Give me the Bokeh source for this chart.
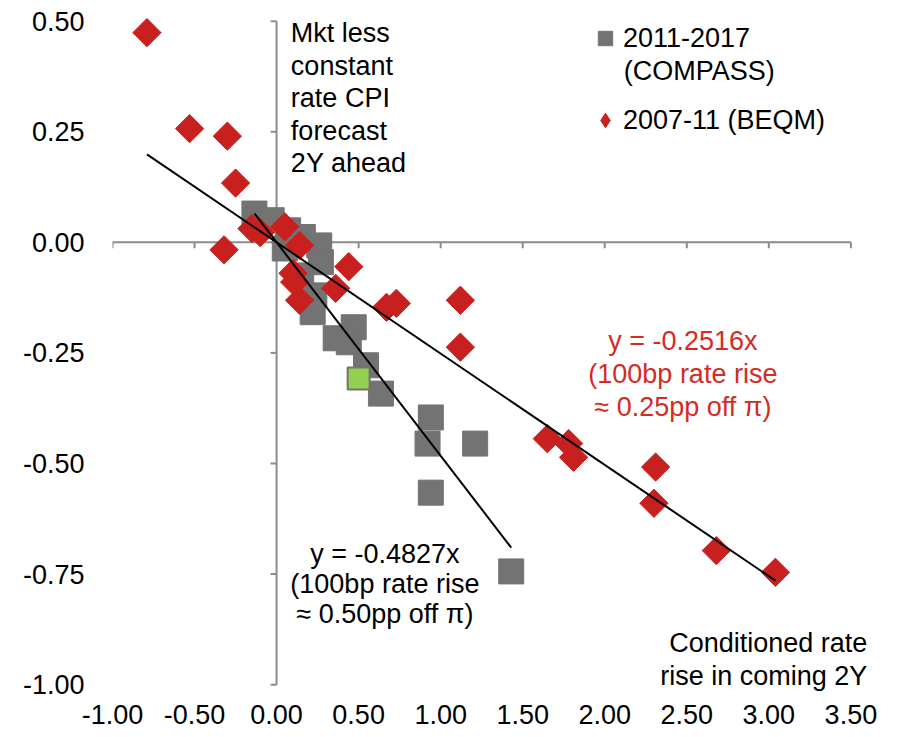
import numpy as np
from bokeh.plotting import figure
from bokeh.models import (LinearAxis, FixedTicker, Label, Legend, LegendItem, Range1d,
                          ColumnDataSource, CDSView, IndexFilter)
from bokeh.embed import file_html
from bokeh.resources import INLINE

# ---- data ----
compass_x = [-0.135, -0.03, 0.05, 0.07, 0.16, 0.26, 0.27, 0.15, 0.23, 0.22,
             0.47, 0.36, 0.44, 0.545, 0.636, 0.94, 0.92, 1.21, 0.94, 1.43]
compass_y = [0.065, 0.05, -0.014, 0.027, 0.012, -0.007, -0.045, -0.075, -0.12, -0.158,
             -0.192, -0.217, -0.226, -0.278, -0.342, -0.396, -0.455, -0.455, -0.566, -0.744]
latest_x = [0.50]
latest_y = [-0.308]
beqm_x = [-0.79, -0.53, -0.30, -0.25, -0.32, -0.15, -0.10, 0.05, 0.14, 0.10, 0.11, 0.14,
          0.44, 0.36, 0.67, 0.73, 1.12, 1.12, 1.65, 1.78, 1.81, 2.31, 2.30, 2.68, 3.04]
beqm_y = [0.474, 0.257, 0.24, 0.134, -0.017, 0.031, 0.022, 0.035, -0.007, -0.07, -0.09, -0.131,
          -0.055, -0.104, -0.147, -0.138, -0.131, -0.237, -0.444, -0.455, -0.486, -0.508,
          -0.59, -0.697, -0.746]
compass_slope = -0.4827
beqm_slope = -0.2516
x_ticks = [-1.0, -0.5, 0.0, 0.5, 1.0, 1.5, 2.0, 2.5, 3.0, 3.5]
y_ticks = [-1.0, -0.75, -0.5, -0.25, 0.0, 0.25, 0.5]
series_names = ["2011-2017", "(COMPASS)", "2007-11 (BEQM)"]

FONT = "Liberation Sans"
FS = "27px"
GREY = "#737373"
RED = "#C8201E"
RED_TXT = "#D42B25"
AX = "#8C8C8C"

p = figure(frame_width=763, frame_height=679,
           x_range=Range1d(x_ticks[0], 3.65), y_range=Range1d(-1.02, 0.515),
           x_axis_type=None, y_axis_type=None,
           output_backend="svg", toolbar_location=None,
           min_border_left=112, min_border_right=20, min_border_top=14, min_border_bottom=44)
p.outline_line_color = None
p.background_fill_color = "white"

# label-only axes at the edges
xlab = LinearAxis(ticker=FixedTicker(ticks=x_ticks),
                  major_label_overrides={t: f"{t:.2f}" for t in x_ticks},
                  axis_line_color=None, major_tick_line_color=None, minor_tick_line_color=None,
                  major_tick_in=0, major_tick_out=0, major_label_standoff=11,
                  major_label_text_font=FONT, major_label_text_font_size=FS,
                  major_label_text_color="black")
ylab = LinearAxis(ticker=FixedTicker(ticks=y_ticks),
                  major_label_overrides={t: f"{t:.2f}" for t in y_ticks},
                  axis_line_color=None, major_tick_line_color=None, minor_tick_line_color=None,
                  major_tick_in=0, major_tick_out=0, major_label_standoff=28,
                  major_label_text_font=FONT, major_label_text_font_size=FS,
                  major_label_text_color="black")
p.add_layout(xlab, "below")
p.add_layout(ylab, "left")

# axis lines crossing at zero, with outward ticks
p.line([x_ticks[0], x_ticks[-1]], [0, 0], line_color=AX, line_width=2)
p.line([0, 0], [y_ticks[0], y_ticks[-1]], line_color=AX, line_width=2)
p.ray(x=x_ticks, y=[0] * len(x_ticks), length=6, length_units="screen",
      angle=-np.pi / 2, line_color=AX, line_width=2)
p.ray(x=[0] * len(y_ticks), y=y_ticks, length=6, length_units="screen",
      angle=np.pi, line_color=AX, line_width=2)

r_compass = p.scatter(compass_x, compass_y, marker="square", size=25,
                      fill_color=GREY, line_color=GREY)
src_beqm = ColumnDataSource(dict(x=beqm_x, y=beqm_y))
# diamond key for the legend: one point, fully hidden under the BEQM marker drawn next
r_beqm_key = p.scatter("x", "y", source=src_beqm, view=CDSView(filter=IndexFilter(indices=[0])),
                       marker="diamond", size=20, fill_color=RED, line_color=RED)
r_beqm = p.scatter("x", "y", source=src_beqm, marker="square", angle=np.pi / 4, size=20,
                   fill_color=RED, line_color=RED)
p.scatter(latest_x, latest_y, marker="square", size=22,
          fill_color="#92D050", line_color=GREY, line_width=2)

# trend lines
cx = [min(compass_x), max(compass_x)]
bx = [min(beqm_x), max(beqm_x)]
p.line(cx, [compass_slope * v for v in cx], line_color="black", line_width=2)
p.line(bx, [beqm_slope * v for v in bx], line_color="black", line_width=2)

legend = Legend(items=[LegendItem(label=series_names[0], renderers=[r_compass]),
                       LegendItem(label=series_names[2], renderers=[r_beqm_key])],
                location=(475, 553), padding=0, margin=0, spacing=42,
                glyph_width=36, glyph_height=40, label_standoff=0,
                label_text_font=FONT, label_text_font_size=FS, label_text_color="black",
                border_line_color=None, background_fill_alpha=0)
p.add_layout(legend)

def lab(x, y, text, align, color, baseline="top", lh=1.1):
    p.add_layout(Label(x=x, y=y, text=text, text_align=align, text_baseline=baseline,
                       text_font=FONT, text_font_size=FS, text_color=color,
                       text_line_height=lh))

lab(2.116, 0.387, series_names[1], "left", "black", baseline="alphabetic")
lab(0.087, 0.506, "Mkt less\nconstant\nrate CPI\nforecast\n2Y ahead", "left", "black", lh=1.08)
lab(2.476, -0.190, "y = -0.2516x\n(100bp rate rise\n\u2248 0.25pp off \u03c0)", "center", RED_TXT)
lab(0.66, -0.670, "y = -0.4827x\n(100bp rate rise\n\u2248 0.50pp off \u03c0)", "center", "black", lh=1.0)
lab(3.60, -0.873, "Conditioned rate\nrise in coming 2Y", "right", "black")

open("out.html", "w").write(file_html(p, INLINE))
